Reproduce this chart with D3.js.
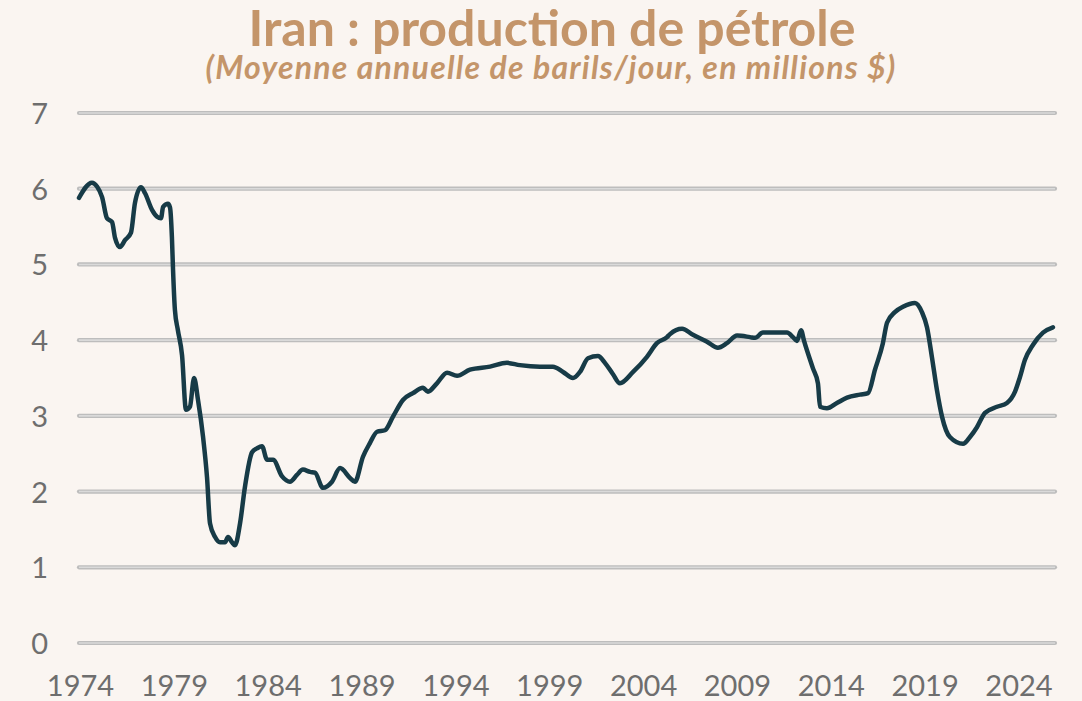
<!DOCTYPE html>
<html>
<head>
<meta charset="utf-8">
<script src="https://cdn.jsdelivr.net/npm/d3@7/dist/d3.min.js"></script>
<style>
  html, body { margin: 0; padding: 0; background: #faf5f1; }
  svg { display: block; }
</style>
</head>
<body>
<svg id="chart" width="1082" height="701"></svg>
<script>
// ---- Data ----
const titleText = "Iran : production de pétrole";
const subtitleText = "(Moyenne annuelle de barils/jour, en millions $)";

const years = [
  1974.00,1974.69,1974.96,1975.23,1975.49,1975.76,1975.92,1976.18,1976.45,1976.77,
  1976.98,1977.30,1977.52,1977.89,1978.16,1978.37,1978.48,1978.74,1978.85,1978.95,
  1979.01,1979.11,1979.27,1979.49,1979.70,1979.91,1980.13,1980.34,1980.61,1980.82,
  1980.98,1981.25,1981.51,1981.78,1981.94,1982.15,1982.31,1982.58,1982.84,1983.22,
  1983.48,1983.75,1984.02,1984.34,1984.82,1985.24,1985.61,1985.93,1986.31,1986.57,
  1987.00,1987.48,1987.91,1988.44,1988.70,1989.13,1989.50,1989.88,1990.30,1990.73,
  1991.26,1991.79,1992.33,1992.59,1993.07,1993.61,1994.14,1994.83,1995.90,1996.80,
  1997.49,1998.56,1999.25,1999.79,2000.32,2000.69,2001.12,2001.65,2002.02,2002.45,
  2002.82,2003.52,2004.26,2004.79,2005.33,2005.49,2006.13,2006.71,2007.46,2008.04,
  2008.52,2009.06,2009.75,2010.02,2010.44,2011.72,2012.04,2012.25,2012.47,2012.63,
  2013.10,2013.37,2013.48,2013.85,2014.38,2014.92,2015.61,2016.04,2016.41,2016.83,
  2017.05,2017.47,2017.90,2018.54,2018.91,2019.18,2019.44,2019.71,2019.98,2020.40,
  2021.10,2021.47,2021.84,2022.27,2022.91,2023.44,2023.87,2024.13,2024.40,2024.83,
  2025.36,2025.89
];
const production = [
  5.88,6.08,6.03,5.89,5.61,5.56,5.35,5.23,5.32,5.42,
  5.81,6.02,5.94,5.72,5.63,5.61,5.76,5.80,5.75,5.36,
  4.93,4.40,4.13,3.80,3.08,3.12,3.50,3.21,2.72,2.19,
  1.58,1.40,1.33,1.33,1.40,1.33,1.29,1.58,2.06,2.52,
  2.57,2.60,2.42,2.42,2.20,2.13,2.22,2.29,2.26,2.25,
  2.05,2.13,2.31,2.18,2.13,2.46,2.64,2.79,2.81,2.99,
  3.21,3.30,3.37,3.32,3.43,3.57,3.53,3.61,3.65,3.70,
  3.67,3.65,3.65,3.58,3.50,3.58,3.76,3.79,3.70,3.55,
  3.43,3.58,3.78,3.96,4.04,4.08,4.15,4.07,3.98,3.90,
  3.96,4.06,4.04,4.03,4.10,4.10,4.04,3.99,4.13,3.99,
  3.63,3.43,3.12,3.10,3.17,3.24,3.28,3.30,3.61,3.96,
  4.23,4.37,4.44,4.49,4.37,4.17,3.78,3.34,2.99,2.72,
  2.63,2.72,2.85,3.04,3.12,3.17,3.32,3.51,3.74,3.94,
  4.10,4.17
];
const yTicks = [0,1,2,3,4,5,6,7];
const xTickLabels = [1974,1979,1984,1989,1994,1999,2004,2009,2014,2019,2024];

// ---- Layout ----
const W = 1082, H = 701;
const plot = { left: 79, right: 1055, top: 113, bottom: 643 };
const svg = d3.select("#chart");

svg.append("rect").attr("width", W).attr("height", H).attr("fill", "#faf5f1");

const x = d3.scaleLinear().domain([1974, 2026]).range([plot.left, plot.right]);
const y = d3.scaleLinear().domain([0, 7]).range([plot.bottom, plot.top]);

const fontFam = "Lato, 'Open Sans', sans-serif";

// Title
svg.append("text")
  .attr("x", 552).attr("y", 46)
  .attr("text-anchor", "middle")
  .attr("font-family", fontFam)
  .attr("font-weight", 700)
  .attr("font-size", 50)
  .attr("fill", "#c4956a")
  .text(titleText);

svg.append("text")
  .attr("x", 551).attr("y", 79)
  .attr("text-anchor", "middle")
  .attr("font-family", fontFam)
  .attr("font-weight", 700)
  .attr("font-style", "italic")
  .attr("font-size", 32)
  .attr("letter-spacing", 1.2)
  .attr("fill", "#c4956a")
  .text(subtitleText);

// Gridlines
const grid = svg.append("g");
grid.selectAll("line.outer").data(yTicks).join("line")
  .attr("class", "outer")
  .attr("x1", plot.left).attr("x2", plot.right)
  .attr("y1", d => y(d)).attr("y2", d => y(d))
  .attr("stroke", "#bdbdbd").attr("stroke-width", 4.2)
  .attr("stroke-linecap", "round");
grid.selectAll("line.inner").data(yTicks).join("line")
  .attr("class", "inner")
  .attr("x1", plot.left).attr("x2", plot.right)
  .attr("y1", d => y(d)).attr("y2", d => y(d))
  .attr("stroke", "#dadada").attr("stroke-width", 1.6);

// Y axis labels
const yAxis = d3.axisLeft(y).tickValues(yTicks).tickSize(0).tickPadding(0).tickFormat(d3.format("d"));
const gy = svg.append("g").attr("transform", `translate(48,0)`).call(yAxis);
gy.select(".domain").remove();
gy.selectAll("text")
  .attr("font-family", fontFam)
  .attr("font-size", 29)
  .attr("fill", "#6e6e6e")
  .attr("dy", "0.36em");

// X axis labels
const xAxis = d3.axisBottom(x).tickValues(xTickLabels).tickSize(0).tickPadding(0).tickFormat(d3.format("d"));
const gx = svg.append("g").attr("transform", `translate(1,675)`).call(xAxis);
gx.select(".domain").remove();
gx.selectAll("text")
  .attr("font-family", fontFam)
  .attr("font-size", 29)
  .attr("fill", "#6e6e6e")
  .attr("dy", "0.72em");

// Line
const data = years.map((yr, i) => ({ yr, v: production[i] }));
const line = d3.line().x(d => x(d.yr)).y(d => y(d.v)).curve(d3.curveMonotoneX);
svg.append("path")
  .datum(data)
  .attr("d", line)
  .attr("fill", "none")
  .attr("stroke", "#173b47")
  .attr("stroke-width", 4.5)
  .attr("stroke-linejoin", "round")
  .attr("stroke-linecap", "round");
</script>
</body>
</html>
